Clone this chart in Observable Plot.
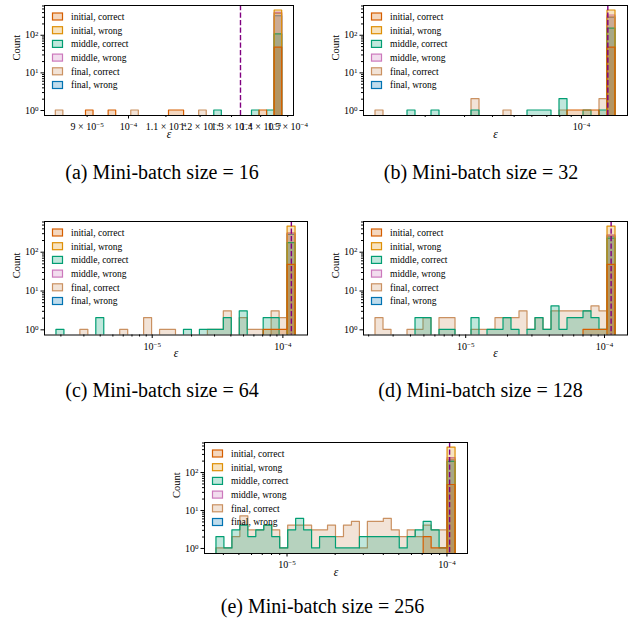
<!DOCTYPE html>
<html><head><meta charset="utf-8">
<script src="https://cdn.jsdelivr.net/npm/d3@7"></script>
<script src="https://cdn.jsdelivr.net/npm/@observablehq/plot@0.6"></script>
<style>
html,body{margin:0;padding:0;background:#fff;overflow:hidden}
#page{position:relative;width:637px;height:626px;font-family:"Liberation Serif","Times New Roman",serif;color:#000}
.panel{position:absolute}
.cap{position:absolute;font-size:20px;line-height:20px;white-space:nowrap;transform:translateX(-50%)}
</style></head><body><div id="page"></div>
<script>
// ---------------- data ----------------
const seriesNames = ["initial, correct", "initial, wrong", "middle, correct", "middle, wrong", "final, correct", "final, wrong"];
const seriesColors = ["#d55e00", "#de8f05", "#029e73", "#cc78bc", "#ca9161", "#0173b2"];
const captions = ["(a) Mini-batch size = 16", "(b) Mini-batch size = 32", "(c) Mini-batch size = 64", "(d) Mini-batch size = 128", "(e) Mini-batch size = 256"];
const nBins = 30;

// (a) batch 16
const aBinRange = [8.31e-5, 1.479e-4];
const aDashed = 1.33e-4;
const aInitialCorrect = [0,0,0,0,1,0,0,1,0,0,0,0,0,0,0,1,1,0,0,0,0,0,0,0,0,0,0,1,0,47];
const aInitialWrong   = [0,0,0,0,0,0,0,0,0,0,0,0,0,0,0,0,0,0,0,0,0,0,0,0,0,0,0,0,0,455];
const aMiddleCorrect  = [0,0,0,0,0,0,0,0,0,0,0,0,0,0,0,0,0,0,0,0,0,1,0,0,0,0,1,0,1,106];
const aMiddleWrong    = [0,0,0,0,0,0,0,0,0,0,0,0,0,0,0,0,0,0,0,0,0,0,0,0,0,0,0,0,0,395];
const aFinalCorrect   = [1,0,0,0,0,0,0,0,0,0,1,0,0,0,0,0,0,0,0,1,0,0,0,0,0,0,0,0,0,370];
const aFinalWrong     = [0,0,0,0,0,0,0,0,0,0,0,0,0,0,0,0,0,0,0,0,0,0,0,0,0,0,0,0,0,320];
const aXTicksMajor = [1e-4];
const aXLabelsMajor = ["10^−4"];
const aXTicksMinor = [9e-5, 1.1e-4, 1.2e-4, 1.3e-4, 1.4e-4, 1.5e-4];
const aXLabelsMinor = ["9 × 10^−5", "1.1 × 10^−4", "1.2 × 10^−4", "1.3 × 10^−4", "1.4 × 10^−4", "1.5 × 10^−4"];

// (b) batch 32
const bBinRange = [1.199e-5, 1.42e-4];
const bDashed = 1.312e-4;
const bInitialCorrect = [0,0,0,0,0,0,0,0,0,0,0,0,0,0,0,0,0,0,0,0,0,0,0,0,1,1,1,1,0,47];
const bInitialWrong   = [0,0,0,0,0,0,0,0,0,0,0,0,0,0,0,0,0,0,0,0,0,0,0,0,0,0,0,0,0,455];
const bMiddleCorrect  = [0,0,0,0,1,0,0,1,0,0,0,0,1,0,0,0,0,0,0,1,1,1,0,2,0,0,1,0,1,150];
const bMiddleWrong    = [0,0,0,0,0,0,0,0,0,0,0,0,0,0,0,0,0,0,0,0,0,0,0,0,0,0,0,0,0,335];
const bFinalCorrect   = [1,0,0,0,0,0,0,0,0,0,0,0,2,0,0,0,1,0,0,0,0,0,0,1,0,0,0,0,2,300];
const bFinalWrong     = [0,0,0,0,0,0,0,0,0,0,0,0,0,0,0,0,0,0,0,0,0,0,0,0,0,0,0,0,0,290];

// (c) batch 64
const cBinRange = [1.85e-6, 1.25e-4];
const cDashed = 1.161e-4;
const cInitialCorrect = [0,0,0,0,0,0,0,0,0,0,0,0,0,0,0,0,0,0,0,0,0,0,0,0,0,0,1,1,1,47];
const cInitialWrong   = [0,0,0,0,0,0,0,0,0,0,0,0,0,0,0,0,0,0,0,0,0,0,0,0,0,0,0,0,0,455];
const cMiddleCorrect  = [1,0,0,0,0,2,0,0,0,0,0,0,0,0,0,0,1,0,1,1,1,2,0,3,0,0,2,2,0,172];
const cMiddleWrong    = [0,0,0,0,0,0,0,0,0,0,0,0,0,0,0,0,0,0,0,0,0,0,0,0,0,0,0,0,0,300];
const cFinalCorrect   = [0,0,0,1,0,0,0,0,1,0,0,2,0,1,1,0,0,0,0,1,1,3,0,2,1,1,0,3,2,300];
const cFinalWrong     = [0,0,0,0,0,0,0,0,0,0,0,0,0,0,0,0,0,0,0,0,0,0,0,0,0,0,0,0,0,280];

// (d) batch 128
const dBinRange = [2.24e-6, 1.2e-4];
const dDashed = 1.116e-4;
const dInitialCorrect = [0,0,0,0,0,0,0,0,0,0,0,0,0,0,0,0,0,0,0,0,0,0,0,0,0,0,1,1,1,47];
const dInitialWrong   = [0,0,0,0,0,0,0,0,0,0,0,0,0,0,0,0,0,0,0,0,0,0,0,0,0,0,0,0,0,455];
const dMiddleCorrect  = [0,0,0,0,0,2,2,0,1,1,0,0,2,0,1,1,2,1,0,1,2,1,4,1,2,2,3,2,1,224];
const dMiddleWrong    = [0,0,0,0,0,0,0,0,0,0,0,0,0,0,0,0,0,0,0,0,0,0,0,0,0,0,0,0,0,270];
const dFinalCorrect   = [2,1,0,0,1,1,2,0,2,2,0,0,1,1,1,2,2,2,3,1,2,1,3,3,3,3,3,4,3,260];
const dFinalWrong     = [0,0,0,0,0,0,0,0,0,0,0,0,0,0,0,0,0,0,0,0,0,0,0,0,0,0,0,0,0,250];

// (e) batch 256
const eBinRange = [3.62e-6, 1.132e-4];
const eDashed = 1.039e-4;
const eInitialCorrect = [0,0,0,0,0,0,0,0,0,0,0,0,0,0,0,0,0,0,0,0,0,0,0,0,0,0,2,1,1,47];
const eInitialWrong   = [0,0,0,0,0,0,0,0,0,0,0,0,0,0,0,0,0,0,0,0,0,0,0,0,0,0,0,0,0,455];
const eMiddleCorrect  = [2,1,3,4,2,3,4,2,1,3,6,3,1,2,2,1,1,1,2,2,2,2,2,1,2,3,5,3,1,190];
const eMiddleWrong    = [0,0,0,0,0,0,0,0,0,0,0,0,0,0,0,0,0,0,0,0,0,0,0,0,0,0,0,0,0,240];
const eFinalCorrect   = [1,1,2,7,3,3,4,3,1,4,4,4,3,3,4,2,4,5,1,5,5,6,3,2,3,2,4,3,3,220];
const eFinalWrong     = [0,0,0,0,0,0,0,0,0,0,0,0,0,0,0,0,0,0,0,0,0,0,0,0,0,0,0,0,0,210];

const logXTicksMajor = [1e-6, 1e-5, 1e-4];
const logXLabelsMajor = ["10^−6", "10^−5", "10^−4"];
const yTicksMajor = [1, 10, 100];
const yLabelsMajor = ["10^0", "10^1", "10^2"];

// ---------------- layout ----------------
const panels = [
  {frame: {L: 43.5, R: 292.5, T: 5, B: 115}, mR: 14, binRange: aBinRange, dashed: aDashed,
   counts: [aInitialCorrect, aInitialWrong, aMiddleCorrect, aMiddleWrong, aFinalCorrect, aFinalWrong],
   major: aXTicksMajor, majorLabels: aXLabelsMajor, minor: aXTicksMinor, minorLabels: aXLabelsMinor,
   cap: {x: 162, y: 178}},
  {frame: {L: 363, R: 627, T: 5, B: 115}, mR: 8, binRange: bBinRange, dashed: bDashed,
   counts: [bInitialCorrect, bInitialWrong, bMiddleCorrect, bMiddleWrong, bFinalCorrect, bFinalWrong],
   major: logXTicksMajor, majorLabels: logXLabelsMajor, cap: {x: 481, y: 178}},
  {frame: {L: 43.5, R: 306.5, T: 220.5, B: 334}, mR: 10, binRange: cBinRange, dashed: cDashed,
   counts: [cInitialCorrect, cInitialWrong, cMiddleCorrect, cMiddleWrong, cFinalCorrect, cFinalWrong],
   major: logXTicksMajor, majorLabels: logXLabelsMajor, cap: {x: 162, y: 396}},
  {frame: {L: 363, R: 627, T: 220.5, B: 334}, mR: 8, binRange: dBinRange, dashed: dDashed,
   counts: [dInitialCorrect, dInitialWrong, dMiddleCorrect, dMiddleWrong, dFinalCorrect, dFinalWrong],
   major: logXTicksMajor, majorLabels: logXLabelsMajor, cap: {x: 480.5, y: 396}},
  {frame: {L: 203.5, R: 466.5, T: 442, B: 553}, mR: 10, binRange: eBinRange, dashed: eDashed,
   counts: [eInitialCorrect, eInitialWrong, eMiddleCorrect, eMiddleWrong, eFinalCorrect, eFinalWrong],
   major: logXTicksMajor, majorLabels: logXLabelsMajor, cap: {x: 322.5, y: 612}}
];

const FONT = "'Liberation Serif','Times New Roman',serif";
const TICK_FS = 10;
const page = document.getElementById("page");

function supify(svg) {
  svg.querySelectorAll("text").forEach(t => {
    const s = t.textContent;
    const k = s.indexOf("^");
    if (k < 0) return;
    const base = s.slice(0, k), exp = s.slice(k + 1);
    t.textContent = base;
    const ts = document.createElementNS("http://www.w3.org/2000/svg", "tspan");
    ts.setAttribute("font-size", "70%");
    ts.setAttribute("dy", "-0.42em");
    ts.textContent = exp;
    t.appendChild(ts);
  });
}

function inDom(v, dom) { return v >= dom[0] && v <= dom[1]; }

panels.forEach((p, idx) => {
  const {L, R, T, B} = p.frame;
  const mL = 42, mT = 6, mB = 32, mR = p.mR;
  const W = mL + (R - L) + mR, H = mT + (B - T) + mB;
  const [lo, hi] = p.binRange;
  const edges = d3.range(nBins + 1).map(i => lo * Math.pow(hi / lo, i / nBins));
  const r = Math.log10(hi / lo);
  const xDom = [lo * Math.pow(10, -0.05 * r), hi * Math.pow(10, 0.05 * r)];
  const M = d3.max(p.counts.flat());
  const yDom = [Math.pow(M, -0.05), Math.pow(M, 1.05)];
  const FLOOR = 1e-3;

  const marks = [];
  for (let s = 5; s >= 0; s--) {
    const c = p.counts[s];
    const pts = edges.map((e, i) => ({x: e, y1: FLOOR, y2: Math.max(c[Math.min(i, nBins - 1)], FLOOR)}));
    marks.push(Plot.areaY(pts, {x: "x", y1: "y1", y2: "y2", curve: "step-after",
      fill: seriesColors[s], fillOpacity: 0.25, stroke: seriesColors[s], strokeWidth: 1.2, clip: true}));
  }
  marks.push(Plot.ruleX([p.dashed], {stroke: "#800080", strokeWidth: 1.4, strokeDasharray: "5.2,2.3"}));
  marks.push(Plot.frame({stroke: "black", strokeWidth: 1}));

  // x axis
  const majIdx = p.major.map((v, i) => i).filter(i => inDom(p.major[i], xDom));
  const majT = majIdx.map(i => p.major[i]);
  const majL = new Map(majIdx.map(i => [p.major[i], p.majorLabels[i]]));
  marks.push(Plot.axisX({ticks: majT, tickSize: 3.5, tickPadding: 4, tickFormat: d => majL.get(d), fontSize: TICK_FS, label: null}));
  if (p.minor) {
    const mnL = new Map(p.minor.map((v, i) => [v, p.minorLabels[i]]));
    const mnT = p.minor.filter(v => inDom(v, xDom));
    marks.push(Plot.axisX({ticks: mnT, tickSize: 2, tickPadding: 5.5, tickFormat: d => mnL.get(d), fontSize: TICK_FS, label: null}));
  } else {
    const mnT = [];
    for (const dec of [1e-7, 1e-6, 1e-5, 1e-4]) for (let k = 2; k <= 9; k++) if (inDom(k * dec, xDom)) mnT.push(k * dec);
    marks.push(Plot.axisX({ticks: mnT, tickSize: 2, fill: "none", label: null}));
  }
  // y axis
  const yL = new Map(yTicksMajor.map((v, i) => [v, yLabelsMajor[i]]));
  marks.push(Plot.axisY({ticks: yTicksMajor.filter(v => inDom(v, yDom)), tickSize: 3.5, tickPadding: 2.5, tickFormat: d => yL.get(d), fontSize: TICK_FS, label: null}));
  const yMin = [];
  for (const dec of [1, 10, 100]) for (let k = 2; k <= 9; k++) if (inDom(k * dec, yDom)) yMin.push(k * dec);
  marks.push(Plot.axisY({ticks: yMin, tickSize: 2, fill: "none", label: null}));
  // axis labels
  marks.push(Plot.text(["Count"], {frameAnchor: "left", dx: -27.5, rotate: -90, fontSize: 10.5, text: d => d}));
  marks.push(Plot.text(["ε"], {frameAnchor: "bottom", dy: 22, fontSize: 11.5, fontStyle: "italic", text: d => d}));

  const el = Plot.plot({
    width: W, height: H,
    marginLeft: mL, marginRight: mR, marginTop: mT, marginBottom: mB,
    x: {type: "log", domain: xDom},
    y: {type: "log", domain: yDom},
    style: {fontFamily: FONT, fontSize: TICK_FS + "px", background: "transparent", overflow: "visible", color: "black"},
    marks
  });
  supify(el);

  // legend
  const svg = d3.select(el);
  const g = svg.append("g").attr("font-family", FONT).attr("font-size", 9.5).attr("text-anchor", "start");
  seriesNames.forEach((name, i) => {
    const cy = mT + 11.5 + i * 13.7;
    g.append("rect").attr("x", mL + 8.5).attr("y", cy - 3.5).attr("width", 10).attr("height", 7)
      .attr("fill", seriesColors[i]).attr("fill-opacity", 0.25)
      .attr("stroke", seriesColors[i]).attr("stroke-width", 1.2);
    g.append("text").attr("x", mL + 27).attr("y", cy).attr("dy", "0.35em").attr("fill", "black").text(name);
  });

  const div = document.createElement("div");
  div.className = "panel";
  div.style.left = (L - mL) + "px";
  div.style.top = (T - mT) + "px";
  div.style.width = W + "px";
  div.style.height = H + "px";
  div.appendChild(el);
  page.appendChild(div);

  const cap = document.createElement("div");
  cap.className = "cap";
  cap.style.left = p.cap.x + "px";
  cap.style.top = (p.cap.y - 16.5) + "px";
  cap.textContent = captions[idx];
  page.appendChild(cap);
});
</script></body></html>
